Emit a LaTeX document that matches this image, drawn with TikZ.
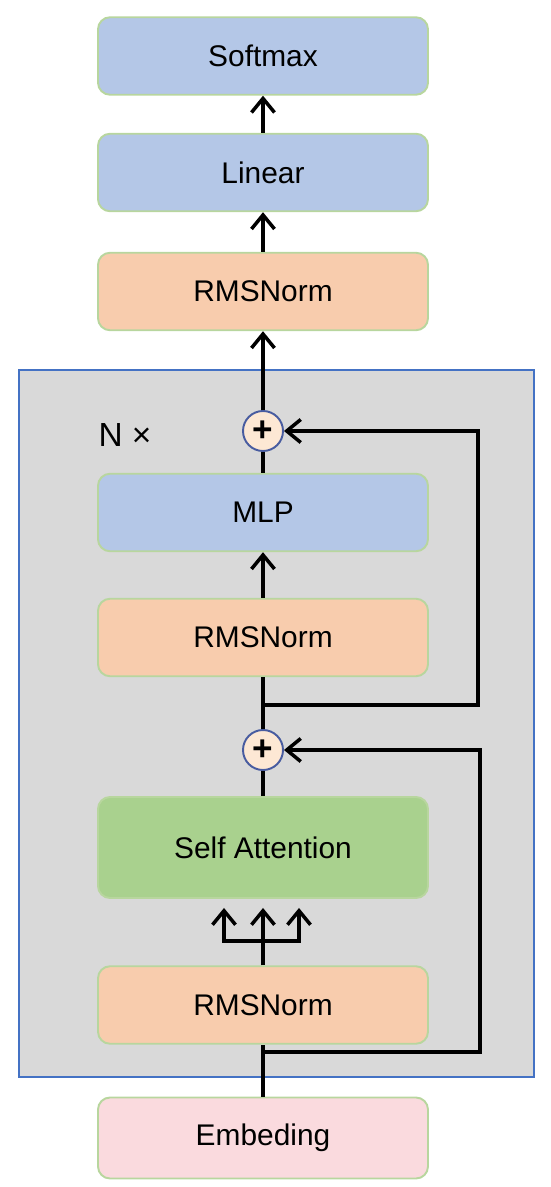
\documentclass[tikz,border=0pt]{standalone}
\usepackage{fontspec}
\setmainfont{Liberation Sans}
\usetikzlibrary{arrows.meta}

\begin{document}
\begin{tikzpicture}
      % colours
      \definecolor{blueblock}{RGB}{180,199,231}
      \definecolor{normblock}{RGB}{248,204,173}
      \definecolor{attnblock}{RGB}{169,209,142}
      \definecolor{embblock}{RGB}{250,218,222}
      \definecolor{edgegreen}{RGB}{184,214,158}
      \definecolor{layerfill}{RGB}{217,217,217}
      \definecolor{layeredge}{RGB}{68,114,196}
      \definecolor{addfill}{RGB}{253,232,212}
      \definecolor{addedge}{RGB}{72,92,160}

      % styles
      \tikzstyle{block} = [rectangle, rounded corners=0.24cm, minimum width=6.6cm, minimum height=1.55cm, text centered, draw=edgegreen, line width=1.1pt, font=\fontsize{17}{20}\selectfont]
      \tikzstyle{addnode} = [circle, minimum size=0.8cm, inner sep=0pt, fill=addfill, draw=addedge, line width=1.1pt, font=\bfseries\fontsize{20}{20}\selectfont]
      \tikzstyle{link} = [line width=2pt, black]
      \tikzstyle{arrow} = [link, -{Straight Barb[length=0.28cm, width=0.46cm]}]

      \useasboundingbox (0,0) rectangle (11,-23.74);

      % the repeated layer
      \draw[fill=layerfill, draw=layeredge, line width=0.8pt] (0.38,-7.4) rectangle (10.68,-21.54);
      \node[font=\fontsize{19}{22}\selectfont] (ntimes) at (2.5,-8.7) {N ×};

      % head
      \node[block, fill=blueblock] (softmax) at (5.26,-1.12) {Softmax};
      \node[block, fill=blueblock] (linear) at (5.26,-3.45) {Linear};
      \node[block, fill=normblock] (norm3) at (5.26,-5.83) {RMSNorm};

      % layer
      \node[addnode] (add2) at (5.26,-8.62) {+};
      \node[block, fill=blueblock] (mlp) at (5.26,-10.25) {MLP};
      \node[block, fill=normblock] (norm2) at (5.26,-12.75) {RMSNorm};
      \node[addnode] (add1) at (5.26,-15.0) {+};
      \node[block, fill=attnblock, minimum height=2.02cm] (attn) at (5.26,-16.95) {Self Attention};
      \node[block, fill=normblock] (norm1) at (5.26,-20.1) {RMSNorm};

      % input
      \node[block, fill=embblock, minimum height=1.62cm] (embed) at (5.26,-22.76) {Embeding};

      % branch points
      \coordinate (skip1) at (5.26,-21.04);
      \coordinate (skip1r) at (9.6,-21.04);
      \coordinate (skip2) at (5.26,-14.1);
      \coordinate (skip2r) at (9.56,-14.1);
      \coordinate (fork) at (5.26,-18.82);

      % connections
      \draw[link] (embed) -- (norm1);
      \draw[arrow, shorten >=0.18cm] (norm1) -- (attn);
      \draw[arrow, shorten >=0.18cm] (fork) -| ([xshift=-0.78cm]attn.south);
      \draw[arrow, shorten >=0.18cm] (fork) -| ([xshift=0.72cm]attn.south);
      \draw[link] (attn) -- (add1);
      \draw[arrow] (skip1) -- (skip1r) |- (add1);
      \draw[link] (add1) -- (norm2);
      \draw[arrow] (norm2) -- (mlp);
      \draw[link] (mlp) -- (add2);
      \draw[arrow] (skip2) -- (skip2r) |- (add2);
      \draw[arrow] (add2) -- (norm3);
      \draw[arrow] (norm3) -- (linear);
      \draw[arrow] (linear) -- (softmax);
    \end{tikzpicture}
\end{document}
